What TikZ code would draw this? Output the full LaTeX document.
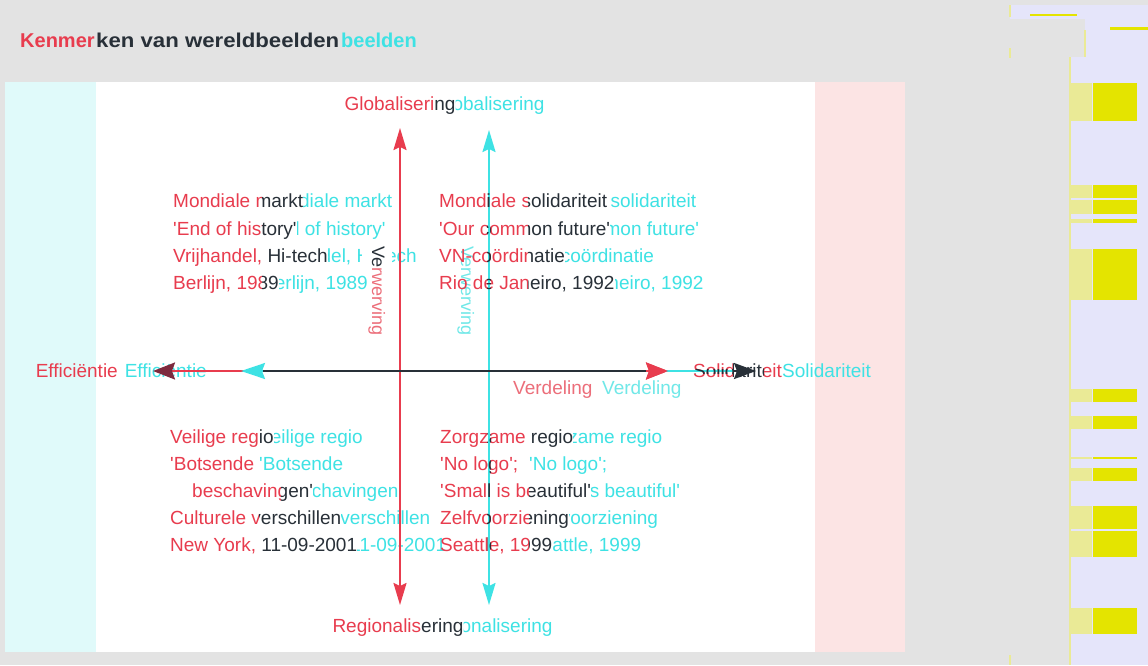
\documentclass[tikz,border=0pt]{standalone}
\usepackage{fontspec}
\setmainfont{Liberation Sans}
\usetikzlibrary{arrows.meta}
\definecolor{rd}{RGB}{232,60,78}
\definecolor{rdl}{RGB}{236,110,122}
\definecolor{cy}{RGB}{62,226,228}
\definecolor{cyl}{RGB}{112,232,232}
\definecolor{dk}{RGB}{40,48,56}
\definecolor{dred}{RGB}{125,42,62}
\definecolor{bggray}{RGB}{227,227,227}
\definecolor{lcyan}{RGB}{224,250,250}
\definecolor{lpink}{RGB}{252,228,228}
\definecolor{lav}{RGB}{229,229,250}
\definecolor{yel}{RGB}{228,228,0}
\definecolor{lyel}{RGB}{234,234,150}
\newcommand\sq{\textquotesingle}
\tikzset{
  lbl/.style={inner sep=0pt, anchor=base west, font=\fontsize{19}{22}\selectfont},
  ttl/.style={inner sep=0pt, anchor=base west, font=\fontsize{20}{24}\selectfont\bfseries},
  vaxis/.style={line width=2pt, {Stealth[length=22pt,width=13pt,inset=3pt]}-{Stealth[length=22pt,width=13pt,inset=3pt]}},
}
% one coloured copy of all labels: #1 main colour, #2 light colour, #3 x shift, #4 name prefix
\newcommand\wlayer[4]{%
\begin{scope}[xshift=#3pt]
\node[lbl,text=#1] (#4a1) at (173,207) {Mondiale markt};
\node[lbl,text=#1] (#4a2) at (173,235) {\sq End of history\sq};
\node[lbl,text=#1] (#4a3) at (173,262) {Vrijhandel, Hi-tech};
\node[lbl,text=#1] (#4a4) at (173,289) {Berlijn, 1989};
\node[lbl,text=#1] (#4b1) at (439,207) {Mondiale solidariteit};
\node[lbl,text=#1] (#4b2) at (439,235) {\sq Our common future\sq};
\node[lbl,text=#1] (#4b3) at (439,262) {VN-coördinatie};
\node[lbl,text=#1] (#4b4) at (439,289) {Rio de Janeiro, 1992};
\node[lbl,text=#1] (#4c1) at (170,443) {Veilige regio};
\node[lbl,text=#1] (#4c2) at (170,470) {\sq Botsende};
\node[lbl,text=#1] (#4c3) at (192,497) {beschavingen\sq};
\node[lbl,text=#1] (#4c4) at (170,524) {Culturele verschillen};
\node[lbl,text=#1] (#4c5) at (170,551) {New York, 11-09-2001};
\node[lbl,text=#1] (#4d1) at (440,443) {Zorgzame regio};
\node[lbl,text=#1] (#4d2) at (440,470) {\sq No logo\sq;};
\node[lbl,text=#1] (#4d3) at (440,497) {\sq Small is beautiful\sq};
\node[lbl,text=#1] (#4d4) at (440,524) {Zelfvoorziening};
\node[lbl,text=#1] (#4d5) at (440,551) {Seattle, 1999};
\node[lbl,anchor=base,text=#1] (#4glob) at (400,110) {Globalisering};
\node[lbl,anchor=base,text=#1] (#4reg) at (398,632) {Regionalisering};
\node[lbl,anchor=base east,text=#1] (#4eff) at (118,377) {Efficiëntie};
\node[lbl,text=#1] (#4sol) at (693,377) {Solidariteit};
\node[lbl,text=#2] (#4verd) at (513,394) {Verdeling};
\node[lbl,anchor=base,rotate=-90,text=#2,font=\fontsize{18}{20}\selectfont] (#4verw) at (372,291) {Verwerving};
\end{scope}}
% overlap of a red label (#1) and a cyan label (#2): dark copy of the red one
\newcommand\ovl[3]{%
\begin{scope}
\clip ([yshift=-6pt]#2.base west) rectangle ([yshift=17pt]#1.base east);
\fill[white] ([yshift=-6pt]#2.base west) rectangle ([yshift=17pt]#1.base east);
\wlayer{dk}{dk}{0}{#3}
\end{scope}}
\begin{document}
\begin{tikzpicture}[x=1pt,y=-1pt]
\useasboundingbox (0,0) rectangle (1148,665);
% backgrounds
\fill[bggray] (0,0) rectangle (1148,665);
\fill[lcyan] (5,82) rectangle (96,652);
\fill[white] (96,82) rectangle (815,652);
\fill[lpink] (815,82) rectangle (905,652);
% right-hand strip
\fill[lav] (1010,5) rectangle (1148,19);
\fill[lav] (1085,19) rectangle (1148,57);
\fill[lav] (1070,57) rectangle (1148,665);
\fill[yel] (1030,14) rectangle (1077,16);
\fill[yel] (1110,27) rectangle (1148,30);
\fill[lyel] (1009,5) rectangle (1011,17);
\fill[lyel] (1009,48) rectangle (1011,58);
\fill[lyel] (1084,30) rectangle (1086,57);
\fill[lyel] (1009,655) rectangle (1011,665);
\fill[lyel] (1069,57) rectangle (1071,665);
\foreach \ya/\yb in {83/121,185/198,200/214,219/223,249/300,389/402,416/429,457/459,468/481,506/529,531/557,608/634}{
  \fill[lyel] (1071,\ya) rectangle (1092,\yb);
  \fill[yel] (1093,\ya) rectangle (1137,\yb);
}
% title
\node[ttl,text=rd] (rtitle) at (20,47) {Kenmerken van wereldbeelden};
\node[ttl,anchor=base east,text=cy] (ctitle) at (417,47) {Kenmerken van wereldbeelden};
\fill[bggray] (95,28) rectangle (341,56);
\node[ttl,text=dk] (dtitle) at (96,47) {\scalebox{1.11}[1]{ken van wereldbeelden}};
% labels: cyan copy, red copy
\wlayer{cy}{cyl}{89}{C}
\wlayer{rd}{rdl}{0}{R}
% dark overlaps
\ovl{Ra1}{Ca1}{Da}
\ovl{Ra2}{Ca2}{Db}
\ovl{Ra3}{Ca3}{Dc}
\ovl{Ra4}{Ca4}{Dd}
\ovl{Rb1}{Cb1}{De}
\ovl{Rb2}{Cb2}{Df}
\ovl{Rb3}{Cb3}{Dg}
\ovl{Rb4}{Cb4}{Dh}
\ovl{Rc1}{Cc1}{Di}
\ovl{Rc3}{Cc3}{Dj}
\ovl{Rc4}{Cc4}{Dk}
\ovl{Rc5}{Cc5}{Dl}
\ovl{Rd1}{Cd1}{Dm}
\ovl{Rd3}{Cd3}{Dn}
\ovl{Rd4}{Cd4}{Do}
\ovl{Rd5}{Cd5}{Dp}
\ovl{Rglob}{Cglob}{Dq}
\ovl{Rreg}{Creg}{Dr}
\begin{scope}
\clip (362,246) rectangle (392,266);
\fill[white] (362,246) rectangle (392,266);
\wlayer{dk}{dk}{0}{Ds}
\end{scope}
% vertical axes
\coordinate (rT) at (400,128); \coordinate (rB) at (400,605);
\coordinate (cT) at (489,130); \coordinate (cB) at (489,605);
\draw[rd,vaxis] (rB) -- (rT);
\draw[cy,vaxis] (cB) -- (cT);
% horizontal axes
\coordinate (rL) at (153,371); \coordinate (rR) at (668,371);
\coordinate (cL) at (241,371); \coordinate (cR) at (756,371);
\coordinate (cLb) at (263,371); \coordinate (rRb) at (646,371);
\coordinate (cRb) at (734,371);
\draw[rd,line width=2pt,{Stealth[length=22pt,width=17pt,inset=3pt,color=dred]}-{Stealth[length=22pt,width=17pt,inset=3pt]}] (rL) -- (rR);
\draw[cy,line width=2pt,{Stealth[length=24pt,width=16pt,inset=3pt]}-{Stealth[length=22pt,width=16pt,inset=3pt]}] (cL) -- (cR);
\draw[dk,line width=2.6pt] (cLb) -- (rRb);
\draw[rd,line width=2pt,-{Stealth[length=22pt,width=17pt,inset=3pt]}] (rRb) -- (rR);
\begin{scope}
\clip (693,369) rectangle (734,373);
\wlayer{dk}{dk}{0}{Dt}
\end{scope}
\begin{scope}
\clip (733,361) rectangle (763,382);
\fill[white] (733,361) rectangle (763,382);
\wlayer{dk}{dk}{0}{Du}
\draw[dk,line width=2pt,-{Stealth[length=22pt,width=16pt,inset=3pt]}] (cRb) -- (cR);
\end{scope}
% red glyphs crossing the cyan vertical line
\begin{scope}
\clip (487.5,150) rectangle (490.5,585);
\wlayer{dk}{dk}{0}{Dv}
\end{scope}
\end{tikzpicture}
\end{document}
